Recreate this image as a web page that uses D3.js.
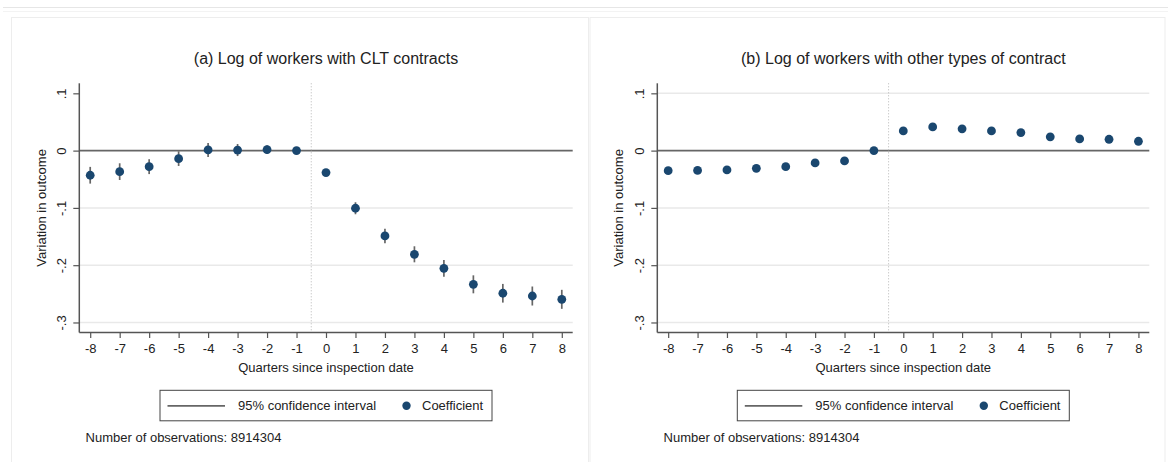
<!DOCTYPE html>
<html>
<head>
<meta charset="utf-8">
<script src="https://cdn.jsdelivr.net/npm/d3@7"></script>
<style>
  html, body { margin: 0; padding: 0; background: #fff; }
  svg { display: block; font-family: "Liberation Sans", Arial, sans-serif; }
</style>
</head>
<body>
<svg id="chart" width="1168" height="462"></svg>
<script>
// Event-study estimates by quarter relative to the inspection date
const quarters = [-8, -7, -6, -5, -4, -3, -2, -1, 0, 1, 2, 3, 4, 5, 6, 7, 8];
const yTicks = [0.1, 0, -0.1, -0.2, -0.3];
const yTickLabels = [".1", "0", "-.1", "-.2", "-.3"];

// (a) CLT contracts
const cltCoef = [-0.043, -0.0367, -0.028, -0.014, 0.0012, 0.001, 0.0018, 0, -0.0384, -0.1006, -0.149, -0.181, -0.2055, -0.2334, -0.249, -0.2538, -0.2596];
const cltLow  = [-0.0576, -0.0513, -0.041, -0.0268, -0.011, -0.0095, -0.0058, 0, -0.0444, -0.1111, -0.1615, -0.195, -0.2201, -0.2491, -0.2653, -0.2704, -0.2762];
const cltHigh = [-0.0284, -0.0221, -0.015, -0.0012, 0.0134, 0.0115, 0.0094, 0, -0.0324, -0.0901, -0.1365, -0.167, -0.1909, -0.2177, -0.2327, -0.2372, -0.243];

// (b) other contract types
const otherCoef = [-0.035, -0.0345, -0.0337, -0.031, -0.028, -0.0215, -0.018, 0, 0.0344, 0.0414, 0.038, 0.0344, 0.0315, 0.024, 0.0204, 0.0198, 0.0163];
const otherLow  = [-0.040, -0.0395, -0.0387, -0.036, -0.033, -0.0265, -0.023, 0, 0.0294, 0.0364, 0.033, 0.0294, 0.0265, 0.019, 0.0154, 0.0148, 0.0113];
const otherHigh = [-0.030, -0.0295, -0.0287, -0.026, -0.023, -0.0165, -0.013, 0, 0.0394, 0.0464, 0.043, 0.0394, 0.0365, 0.029, 0.0254, 0.0248, 0.0213];

const panelTitles = ["(a) Log of workers with CLT contracts", "(b) Log of workers with other types of contract"];
const xTitle = "Quarters since inspection date";
const yTitle = "Variation in outcome";
const legendLabels = ["95% confidence interval", "Coefficient"];
const noteText = "Number of observations: 8914304";
const eventLine = -0.5;

const svg = d3.select("#chart");
const DOT = "#1a476f", CI = "#666", AXIS = "#555", TXT = "#222";

// outer frames
svg.append("line").attr("x1", 3).attr("x2", 1168).attr("y1", 7.5).attr("y2", 7.5)
  .attr("stroke", "#e6e6e6").attr("stroke-width", 1);
svg.append("line").attr("x1", 3).attr("x2", 1168).attr("y1", 11.5).attr("y2", 11.5)
  .attr("stroke", "#f3f3f3").attr("stroke-width", 1);

const panels = [
  { coef: cltCoef, low: cltLow, high: cltHigh, title: panelTitles[0],
    frame: [11.5, 588.5], x0: 79.3, x1: 572.7, yTitleX: 41.7, grid: [-0.1, -0.2, -0.3] },
  { coef: otherCoef, low: otherLow, high: otherHigh, title: panelTitles[1],
    frame: [590, 1165], x0: 657.3, x1: 1149.3, yTitleX: 618.3, grid: [0.1, -0.1, -0.2, -0.3] }
];

const yTop = 83.3, yBot = 332.5;

panels.forEach(p => {
  const g = svg.append("g");
  g.append("rect").attr("x", p.frame[0]).attr("y", 17.5)
    .attr("width", p.frame[1] - p.frame[0]).attr("height", 460)
    .attr("fill", "none").attr("stroke", "#ededed").attr("stroke-width", 1);

  const x = d3.scaleLinear().domain([-8.37, 8.37]).range([p.x0, p.x1]);
  const y = d3.scaleLinear().domain([-0.3175, 0.1175]).range([yBot, yTop]);
  const cx = (p.x0 + p.x1) / 2;

  // gridlines
  g.selectAll(".grid").data(p.grid).join("line")
    .attr("x1", p.x0).attr("x2", p.x1)
    .attr("y1", d => y(d)).attr("y2", d => y(d))
    .attr("stroke", "#e9e9e9").attr("stroke-width", 1.5);

  // reference line at zero
  g.append("line").attr("x1", p.x0).attr("x2", p.x1)
    .attr("y1", y(0)).attr("y2", y(0))
    .attr("stroke", "#666").attr("stroke-width", 1.6);

  // inspection date marker
  g.append("line").attr("x1", x(eventLine)).attr("x2", x(eventLine))
    .attr("y1", yTop).attr("y2", yBot)
    .attr("stroke", "#b5b5b5").attr("stroke-width", 1).attr("stroke-dasharray", "1,2");

  // y axis
  const yAxis = d3.axisLeft(y).tickValues(yTicks).tickSize(6)
    .tickFormat((d, i) => yTickLabels[i]);
  const ya = g.append("g").attr("transform", `translate(${p.x0},0)`).call(yAxis);
  ya.select(".domain").attr("d", `M0,${yTop}V${yBot}`).attr("stroke", AXIS).attr("stroke-width", 1.5);
  ya.selectAll(".tick line").attr("stroke", AXIS).attr("stroke-width", 1.2);
  ya.selectAll(".tick text")
    .attr("x", null).attr("dy", null)
    .attr("transform", "translate(-13,0) rotate(-90)")
    .attr("text-anchor", "middle")
    .attr("font-size", 13).attr("fill", TXT).attr("font-family", null);

  // x axis
  const xAxis = d3.axisBottom(x).tickValues(quarters).tickSize(5.5).tickFormat(d3.format("d"));
  const xa = g.append("g").attr("transform", `translate(0,${yBot})`).call(xAxis);
  xa.select(".domain").attr("d", `M${p.x0},0H${p.x1}`).attr("stroke", AXIS).attr("stroke-width", 1.5);
  xa.selectAll(".tick line").attr("stroke", AXIS).attr("stroke-width", 1.2);
  xa.selectAll(".tick text").attr("y", 20.5).attr("dy", null)
    .attr("font-size", 13).attr("fill", TXT).attr("font-family", null)
    .text(d => d < 0 ? "-" + Math.abs(d) : String(d));

  // confidence intervals
  g.selectAll(".ci").data(quarters).join("line")
    .attr("x1", d => x(d)).attr("x2", d => x(d))
    .attr("y1", (d, i) => y(p.low[i])).attr("y2", (d, i) => y(p.high[i]))
    .attr("stroke", CI).attr("stroke-width", 1.7);

  // coefficients
  g.selectAll(".pt").data(quarters).join("circle")
    .attr("cx", d => x(d)).attr("cy", (d, i) => y(p.coef[i]))
    .attr("r", 4.4).attr("fill", DOT);

  // titles
  g.append("text").attr("x", cx).attr("y", 63.5).attr("text-anchor", "middle")
    .attr("font-size", 16).attr("fill", TXT).text(p.title);
  g.append("text").attr("x", cx).attr("y", 372.3).attr("text-anchor", "middle")
    .attr("font-size", 13).attr("fill", TXT).text(xTitle);
  g.append("text").attr("transform", `translate(${p.yTitleX + 4.6},${(yTop + yBot) / 2}) rotate(-90)`)
    .attr("text-anchor", "middle").attr("font-size", 13).attr("fill", TXT).text(yTitle);

  // legend
  const lx = cx - 166, ly = 390.3, lw = 332, lh = 30.5, my = ly + 15.5;
  const lg = g.append("g");
  lg.append("rect").attr("x", lx).attr("y", ly).attr("width", lw).attr("height", lh)
    .attr("fill", "#fff").attr("stroke", "#444").attr("stroke-width", 1);
  lg.append("line").attr("x1", lx + 7.5).attr("x2", lx + 65).attr("y1", my).attr("y2", my)
    .attr("stroke", CI).attr("stroke-width", 1.7);
  lg.append("text").attr("x", lx + 78).attr("y", my + 4.6).attr("font-size", 13)
    .attr("fill", TXT).text(legendLabels[0]);
  lg.append("circle").attr("cx", lx + 246.5).attr("cy", my).attr("r", 4.2).attr("fill", DOT);
  lg.append("text").attr("x", lx + 262).attr("y", my + 4.6).attr("font-size", 13)
    .attr("fill", TXT).text(legendLabels[1]);

  // note
  g.append("text").attr("x", p.x0 + 6.3).attr("y", 442.3).attr("font-size", 13)
    .attr("fill", TXT).text(noteText);
});
</script>
</body>
</html>
